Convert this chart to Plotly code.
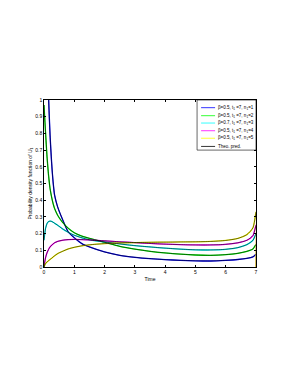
import plotly.graph_objects as go

# ---- data ----
TIME = [0, 0.05, 0.1, 0.15, 0.2, 0.25, 0.3, 0.35, 0.45, 0.6, 0.8, 1.0, 1.25, 1.5,
        2, 2.5, 3, 3.5, 4, 4.5, 5, 5.5, 6, 6.4, 6.7, 6.9, 7]

PDF_N1 = [4.0, 2.6, 1.35, 1.02, 0.79, 0.63, 0.51, 0.43, 0.36, 0.29, 0.21, 0.175, 0.14, 0.12,
          0.09, 0.07, 0.058, 0.05, 0.044, 0.04, 0.037, 0.036, 0.04, 0.045, 0.052, 0.061, 0.075]
PDF_N2 = [0.97, 0.81, 0.66, 0.55, 0.47, 0.42, 0.38, 0.35, 0.31, 0.27, 0.232, 0.205, 0.185, 0.172,
          0.148, 0.124, 0.107, 0.094, 0.084, 0.077, 0.072, 0.07, 0.074, 0.082, 0.094, 0.108, 0.135]
PDF_N3 = [0.16, 0.23, 0.26, 0.272, 0.275, 0.273, 0.268, 0.262, 0.25, 0.23, 0.208, 0.19, 0.175, 0.163,
          0.15, 0.138, 0.128, 0.12, 0.113, 0.107, 0.103, 0.102, 0.106, 0.116, 0.134, 0.16, 0.2]
PDF_N4 = [0, 0.055, 0.085, 0.105, 0.12, 0.13, 0.138, 0.145, 0.153, 0.16, 0.164, 0.165, 0.164, 0.162,
          0.157, 0.151, 0.146, 0.141, 0.137, 0.134, 0.132, 0.132, 0.136, 0.145, 0.16, 0.188, 0.25]
PDF_N5 = [0, 0.02, 0.03, 0.038, 0.045, 0.052, 0.06, 0.067, 0.08, 0.093, 0.108, 0.118, 0.127, 0.133,
          0.14, 0.144, 0.146, 0.148, 0.149, 0.15, 0.151, 0.153, 0.159, 0.171, 0.194, 0.235, 0.33]

# simulated curves end with a drop at t = 7
SIM_END_T = [7.0]
SIM_END_V = [0.0]

SERIES = [PDF_N1, PDF_N2, PDF_N3, PDF_N4, PDF_N5]
LABELS = [
    "β=0.5, t<sub>1</sub> =7, n<sub>1</sub>=1",
    "β=0.5, t<sub>1</sub> =7, n<sub>1</sub>=2",
    "β=0.7, t<sub>1</sub> =7, n<sub>1</sub>=3",
    "β=0.5, t<sub>1</sub> =7, n<sub>1</sub>=4",
    "β=0.5, t<sub>1</sub> =7, n<sub>1</sub>=5",
]
THEO_LABEL = "Theo. pred."
COLORS = ["#0000ff", "#00ff00", "#00ffff", "#ff00ff", "#ffff00"]
THEO_COLOR = "#000000"

X_TICKS = [0, 1, 2, 3, 4, 5, 6, 7]
Y_TICKS = [0, 0.1, 0.2, 0.3, 0.4, 0.5, 0.6, 0.7, 0.8, 0.9, 1]
Y_TICK_TEXT = ["0", "0.1", "0.2", "0.3", "0.4", "0.5", "0.6", "0.7", "0.8", "0.9", "1"]

fig = go.Figure()
for vals, lab, col in zip(SERIES, LABELS, COLORS):
    fig.add_trace(go.Scatter(
        x=TIME + SIM_END_T, y=vals + SIM_END_V, mode="lines", name=lab,
        line=dict(color=col, width=1.3, shape="spline", smoothing=0.6),
        showlegend=False))
for i, vals in enumerate(SERIES):
    fig.add_trace(go.Scatter(
        x=TIME, y=vals, mode="lines", name=THEO_LABEL, showlegend=False,
        line=dict(color=THEO_COLOR, width=0.6, shape="spline", smoothing=0.6)))

# ---- compact MATLAB-style legend (box, line samples, labels) ----
FONT = "Liberation Sans, Arial, sans-serif"
LEG_X0, LEG_X1, LEG_Y0, LEG_Y1 = 0.722, 1.0, 0.70, 1.0
ROW_Y = [0.954, 0.906, 0.862, 0.816, 0.771, 0.722]
SAMPLE_X0, SAMPLE_X1, TEXT_X = 0.741, 0.807, 0.812

shapes = [dict(type="rect", xref="paper", yref="paper", x0=LEG_X0, x1=LEG_X1,
               y0=LEG_Y0, y1=LEG_Y1, line=dict(color="#000", width=0.6),
               fillcolor="white", layer="above")]
annotations = []
for ry, lab, col in zip(ROW_Y, LABELS + [THEO_LABEL], COLORS + [THEO_COLOR]):
    shapes.append(dict(type="line", xref="paper", yref="paper", x0=SAMPLE_X0,
                       x1=SAMPLE_X1, y0=ry, y1=ry, line=dict(color=col, width=0.8),
                       layer="above"))
    annotations.append(dict(xref="paper", yref="paper", x=TEXT_X, y=ry, text=lab,
                            showarrow=False, xanchor="left", yanchor="middle",
                            font=dict(size=4.5, family=FONT, color="#000")))

# the page adds an 8px body margin, so the figure is shifted back by that amount
fig.update_layout(
    width=283, height=368,
    margin=dict(l=36, r=35, t=92, b=109),
    paper_bgcolor="white", plot_bgcolor="white",
    font=dict(family=FONT, size=5, color="#000"),
    showlegend=False,
    shapes=shapes, annotations=annotations,
    xaxis=dict(range=[0, 7], tickvals=X_TICKS, ticks="inside", ticklen=2,
               tickwidth=0.6, tickcolor="#000", showline=True, linecolor="#000",
               linewidth=0.6, mirror="allticks", showgrid=False, zeroline=False,
               automargin=False, tickfont=dict(size=5),
               title=dict(text="Time", font=dict(size=5), standoff=3)),
    yaxis=dict(range=[0, 1], tickvals=Y_TICKS, ticktext=Y_TICK_TEXT, ticks="inside",
               ticklen=2, tickwidth=0.6, tickcolor="#000", showline=True,
               linecolor="#000", linewidth=0.6, mirror="allticks", showgrid=False,
               zeroline=False, automargin=False, tickfont=dict(size=5),
               title=dict(text="Probability density function of U<sub>1</sub>",
                          font=dict(size=5), standoff=2)),
)

fig.write_html("out.html")
